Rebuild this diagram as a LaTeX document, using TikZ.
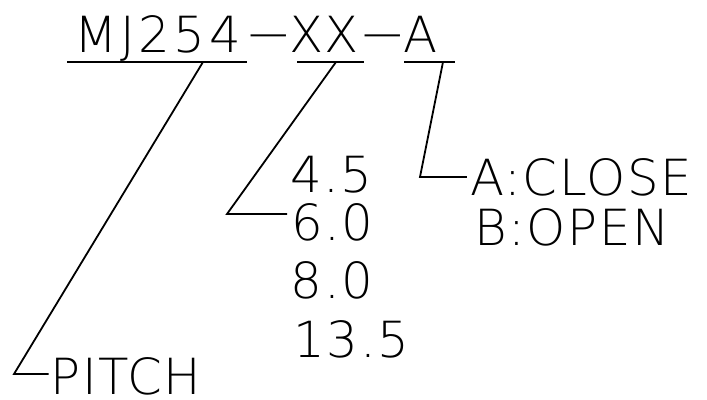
\documentclass[tikz,border=0pt]{standalone}
\usepackage{fontspec}
\usepackage{graphicx}
\IfFontExistsTF{DejaVu Sans ExtraLight}{\setmainfont{DejaVu Sans ExtraLight}[LetterSpace=3]}{\setmainfont{DejaVu Sans}[LetterSpace=3]}
\newcommand\cadDash{\raisebox{2.5bp}{\scalebox{2.7}[1]{-}}}
\begin{document}
\begin{tikzpicture}[x=1bp,y=-1bp,
  lbl/.style={inner sep=0pt, anchor=base, font=\fontsize{50}{56}\selectfont},
  ldr/.style={line width=1.8bp, line join=miter}]
\useasboundingbox (0,0) rectangle (707,399);
% texts
\node[lbl] (code1) at (157.5,52) {\addfontfeature{LetterSpace=7}MJ254};
\node[lbl] (dash1) at (268.5,52) {\cadDash};
\node[lbl] (code2) at (324,52) {XX};
\node[lbl] (dash2) at (382.5,52) {\cadDash};
\node[lbl] (code3) at (421,52) {A};
\node[lbl] (pitch) at (126,394) {PITCH};
\node[lbl] (v45) at (331.5,192) {4.5};
\node[lbl] (v60) at (332.5,240) {6.0};
\node[lbl] (v80) at (332,298) {8.0};
\node[lbl] (v135) at (351.5,357) {13.5};
\node[lbl] (optA) at (581,195) {A:CLOSE};
\node[lbl] (optB) at (572,245) {B:OPEN};
% leader geometry
\coordinate (u1a) at (67,62);  \coordinate (u1b) at (247,62);
\coordinate (t1) at (203,62);  \coordinate (e1) at (14,374);
\coordinate (u2a) at (297,62); \coordinate (u2b) at (364,62);
\coordinate (t2) at (336,62);  \coordinate (e2) at (227,214);
\coordinate (u3a) at (404,62); \coordinate (u3b) at (455,62);
\coordinate (t3) at (443,62);  \coordinate (e3) at (420,177);
% underlines
\draw[ldr] (u1a) -- (u1b);
\draw[ldr] (u2a) -- (u2b);
\draw[ldr] (u3a) -- (u3b);
% leaders
\draw[ldr] (t1) -- (e1) -- ([xshift=-2bp]e1 -| pitch.west);
\draw[ldr] (t2) -- (e2) -- ([xshift=-4bp]e2 -| v60.west);
\draw[ldr] (t3) -- (e3) -- ([xshift=-3bp]e3 -| optA.west);
\end{tikzpicture}
\end{document}
